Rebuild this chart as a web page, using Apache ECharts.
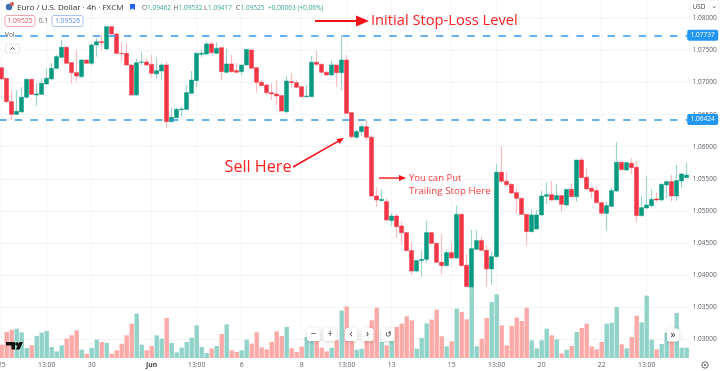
<!DOCTYPE html>
<html><head><meta charset="utf-8">
<style>html,body{margin:0;padding:0;background:#fff}#c{width:720px;height:371px}</style>
<script src="https://cdn.jsdelivr.net/npm/echarts@6/dist/echarts.min.js"></script>
</head><body><div id="c"></div>
<script>
const opens=[1.07233,1.07067,1.06703,1.06505,1.06542,1.06771,1.07051,1.06807,1.06817,1.06979,1.07057,1.07223,1.07395,1.07551,1.07311,1.07155,1.07093,1.07353,1.07301,1.07587,1.07639,1.07525,1.07873,1.07759,1.07457,1.07457,1.07275,1.06807,1.07317,1.07322,1.07285,1.07135,1.07181,1.07275,1.06391,1.06453,1.06578,1.06583,1.06833,1.07031,1.07441,1.07447,1.07603,1.07457,1.07545,1.07161,1.07291,1.07187,1.07171,1.07275,1.07509,1.07233,1.07005,1.06963,1.06843,1.06823,1.06797,1.06547,1.07015,1.06999,1.06937,1.06781,1.06781,1.07317,1.07285,1.07161,1.07119,1.07275,1.07155,1.07353,1.06531,1.06147,1.06235,1.06313,1.06147,1.05231,1.05159,1.05143,1.04847,1.04919,1.04763,1.04659,1.04379,1.04061,1.04223,1.04243,1.04659,1.04493,1.04197,1.04145,1.04347,1.04264,1.04945,1.0415,1.03812,1.04399,1.04535,1.04384,1.04093,1.04285,1.05601,1.0546,1.05413,1.05283,1.05195,1.04945,1.04675,1.04717,1.04935,1.05226,1.05252,1.05174,1.05237,1.05091,1.05335,1.05221,1.05793,1.05523,1.05351,1.05315,1.05127,1.04961,1.0507,1.05309,1.05757,1.05637,1.05741,1.05679,1.04925,1.05044,1.05081,1.05185,1.05169,1.05403,1.05455,1.05231,1.05465,1.05517];
const closes=[1.07057,1.06703,1.06505,1.06552,1.06771,1.07051,1.06817,1.06823,1.06989,1.07067,1.07223,1.07405,1.07551,1.07301,1.07155,1.07103,1.07353,1.07301,1.07587,1.07639,1.07623,1.07873,1.07759,1.07457,1.07452,1.07275,1.06807,1.07311,1.07322,1.07275,1.07145,1.07187,1.07275,1.06391,1.06459,1.06583,1.06589,1.06843,1.07041,1.07457,1.07457,1.07603,1.07467,1.07535,1.07171,1.07291,1.07171,1.07161,1.07275,1.07519,1.07223,1.07005,1.06953,1.06843,1.06823,1.06791,1.06557,1.07025,1.06999,1.06927,1.06781,1.06791,1.07317,1.07285,1.07161,1.07119,1.07275,1.07155,1.07353,1.06521,1.06157,1.06235,1.06313,1.06147,1.05231,1.05169,1.05179,1.04857,1.04919,1.04753,1.04659,1.04379,1.04061,1.04223,1.04243,1.04659,1.04493,1.04197,1.04145,1.04347,1.04264,1.04945,1.04145,1.03817,1.0441,1.04535,1.04384,1.04093,1.04285,1.05601,1.0546,1.05408,1.05278,1.05195,1.04945,1.04675,1.04935,1.04935,1.05231,1.05252,1.05169,1.05237,1.05101,1.05335,1.05221,1.05793,1.05517,1.05341,1.05304,1.05127,1.04961,1.05081,1.05315,1.05757,1.05642,1.05751,1.05673,1.04925,1.05049,1.05091,1.05179,1.05169,1.05413,1.05455,1.05231,1.05471,1.05575,1.05558];
const highs=[1.07233,1.07067,1.06885,1.06885,1.06927,1.07067,1.07051,1.06989,1.07067,1.07223,1.07301,1.07431,1.07665,1.07561,1.07311,1.07509,1.07363,1.07353,1.07613,1.07691,1.07743,1.07873,1.07883,1.07769,1.07639,1.07613,1.07275,1.07379,1.07483,1.07379,1.07431,1.07395,1.07301,1.07327,1.06609,1.06609,1.06625,1.06963,1.07181,1.07467,1.07509,1.07639,1.07639,1.07629,1.07545,1.07535,1.07431,1.07301,1.07275,1.07519,1.07509,1.07233,1.07041,1.06963,1.06989,1.07041,1.06797,1.07103,1.07145,1.07041,1.06937,1.06963,1.07415,1.07493,1.07301,1.07187,1.07343,1.07275,1.07737,1.07431,1.06547,1.06261,1.06355,1.06417,1.06183,1.05367,1.05335,1.05195,1.04961,1.04951,1.04831,1.04659,1.04519,1.04233,1.04379,1.04847,1.04675,1.04493,1.04639,1.04389,1.04503,1.05081,1.04945,1.04327,1.04701,1.04701,1.04597,1.04467,1.04363,1.05731,1.06011,1.05611,1.05429,1.05351,1.05195,1.04945,1.05029,1.05013,1.05309,1.05439,1.05465,1.05419,1.05237,1.05335,1.05429,1.05793,1.05835,1.05673,1.05377,1.05377,1.05143,1.05143,1.05367,1.06069,1.05757,1.05757,1.05819,1.05783,1.05231,1.05549,1.05335,1.05289,1.05429,1.05471,1.05559,1.05715,1.05585,1.05751];
const lows=[1.07057,1.06677,1.06417,1.06495,1.06531,1.06755,1.06807,1.06635,1.06807,1.06963,1.07041,1.07213,1.07379,1.07301,1.06989,1.07015,1.07067,1.07301,1.07275,1.07405,1.07509,1.07509,1.07743,1.07447,1.07327,1.07265,1.06797,1.06797,1.07275,1.07265,1.07083,1.07057,1.07041,1.06287,1.06375,1.06443,1.06469,1.06573,1.06823,1.06927,1.07395,1.07431,1.07457,1.07447,1.07041,1.07145,1.07155,1.07155,1.07119,1.07265,1.07213,1.06843,1.06947,1.06807,1.06729,1.06651,1.06547,1.06521,1.06927,1.06911,1.06771,1.06755,1.06771,1.07265,1.07145,1.07103,1.07103,1.06937,1.06885,1.06511,1.06126,1.06115,1.06178,1.06095,1.05221,1.05065,1.05143,1.04841,1.04763,1.04571,1.04467,1.04368,1.03999,1.04041,1.03973,1.04191,1.04477,1.04181,1.04009,1.04129,1.04254,1.04254,1.04134,1.03807,1.03609,1.04389,1.04373,1.03817,1.03843,1.04275,1.0545,1.05367,1.05263,1.04951,1.04935,1.04457,1.04665,1.04711,1.04925,1.05107,1.05159,1.05159,1.04987,1.05075,1.05211,1.05143,1.05507,1.05325,1.05195,1.05117,1.04951,1.04691,1.05055,1.05299,1.05637,1.05627,1.05569,1.04831,1.04909,1.05029,1.05055,1.05143,1.05153,1.05195,1.05143,1.05159,1.05351,1.05507];
const volumes=[40,78,85,88,77,30,38,66,76,81,33,20,38,58,68,83,25,13,30,55,48,45,13,23,43,68,103,133,40,23,36,68,58,120,45,17,31,48,61,98,33,15,28,36,72,101,23,18,23,55,43,77,32,26,48,80,66,93,29,18,34,63,53,53,31,20,31,53,142,155,53,25,28,53,113,151,48,38,53,93,103,125,113,28,60,104,115,145,65,35,50,148,138,116,213,35,58,120,168,191,98,38,96,121,111,151,53,29,53,88,68,56,14,25,36,78,90,103,35,26,48,103,106,153,41,29,63,127,107,187,55,26,42,76,53,135,31,31];
const timeLabels=['25','13:00','30','Jun','13:00','6','8','13:00','13','15','13:00','20','22','13:00'];
const timeLabelBars=[0,9,18,30,39,48,60,69,78,90,99,108,120,129];
const stopLossLevel=1.07737, entryLevel=1.06424;
const priceTicksMin=1.025, priceTicksMax=1.085, priceTickStep=0.005;
const visibleTickMin=1.03, visibleTickMax=1.08;

const categories=opens.map((_,i)=>{const k=timeLabelBars.indexOf(i);return k>=0?timeLabels[k]:'';});
const C_UP='#089981',C_DN='#f23645',WICK_UP='#9ed6cd',WICK_DN='#fbbcc0',VOL_UP='#92d3c9',VOL_DN='#fbaaa8',BLUE='#2196f3',RED='#ff1f1f';
const chart=echarts.init(document.getElementById('c'),null,{renderer:'canvas'});
const wickData=opens.map((o,i)=>[o,closes[i],lows[i],highs[i]]);
const bodyData=opens.map((o,i)=>[o,closes[i],Math.min(o,closes[i]),Math.max(o,closes[i])]);
const volData=volumes.map((v,i)=>({value:v,itemStyle:{color:closes[i]>=opens[i]?VOL_UP:VOL_DN}}));
const F='"Open Sans",sans-serif';
const tag=(v,bg,fg,bd)=>({yAxis:v,label:{show:true,position:'end',distance:-1,formatter:v.toFixed(5),backgroundColor:bg,color:fg,borderColor:bd,borderWidth:1,padding:[1,2.5,1,2.5],fontSize:6.5,fontFamily:F,borderRadius:1}});
function btn(cx,cy,w,txt,fs){return [
 {type:'rect',z:60,shape:{x:cx-w/2,y:cy-6.5,width:w,height:13,r:2.5},style:{fill:'#fff',shadowBlur:4,shadowColor:'rgba(0,0,0,.18)',shadowOffsetY:1}},
 {type:'text',z:61,x:cx,y:cy,style:{text:txt,font:(fs||9)+'px '+F,fill:'#333',textAlign:'center',textVerticalAlign:'middle'}}];}
function arrow(x1,y1,x2,y2,head,w,col){const a=Math.atan2(y2-y1,x2-x1),c=Math.cos(a),s=Math.sin(a),bx=x2-head*c,by=y2-head*s,hw=head*0.42;
 return [
 {type:'line',z:70,shape:{x1,y1,x2:bx,y2:by},style:{stroke:col,lineWidth:w}},
 {type:'polygon',z:70,shape:{points:[[x2,y2],[bx-s*hw,by+c*hw],[bx+s*hw,by-c*hw]]},style:{fill:col}}];}
const ann=(x,y,t,fs,col)=>({type:'text',z:70,x,y,style:{text:t,font:fs+'px '+F,fill:col,textVerticalAlign:'middle'}});
const hdr=(x,t,col)=>({type:'text',z:50,x,y:8,style:{text:t,font:'6.5px '+F,fill:col,textVerticalAlign:'middle'}});
chart.setOption({
 animation:false,backgroundColor:'#fff',
 grid:[
  {left:-0.8,top:-13.55,width:690,height:384.6,outerBoundsMode:'none'},
  {left:-0.8,top:0,width:690,height:358,outerBoundsMode:'none'}],
 xAxis:[
  {gridIndex:0,type:'category',data:categories,show:false},
  {gridIndex:1,type:'category',data:categories,axisLine:{show:false},axisTick:{show:false},
   axisLabel:{interval:0,margin:3.5,fontSize:6.8,color:'#5a5e68',fontFamily:F,hideOverlap:false,
    formatter:v=>v==='Jun'?'{b|Jun}':v,rich:{b:{fontWeight:'bold',fontSize:6.8,color:'#444',fontFamily:F}}},
   splitLine:{show:true,alignWithLabel:true,interval:(i,v)=>v!=='',lineStyle:{color:'#f4f5f7',width:1}}}],
 yAxis:[
  {gridIndex:0,type:'value',position:'right',min:priceTicksMin,max:priceTicksMax,interval:priceTickStep,
   axisLine:{show:false},axisTick:{show:false},
   axisLabel:{margin:3.5,fontSize:6.5,color:'#5a5e68',fontFamily:F,
    formatter:v=>(v<visibleTickMin-1e-6||v>visibleTickMax+1e-6)?'':v.toFixed(5)},
   splitLine:{lineStyle:{color:'#f3f4f6',width:1}}},
  {gridIndex:1,type:'value',min:0,max:1074,show:false,splitLine:{show:false}}],
 series:[
  {type:'bar',name:'Vol',xAxisIndex:1,yAxisIndex:1,data:volData,barWidth:4.4,z:1,silent:true},
  {type:'candlestick',name:'wick',xAxisIndex:0,yAxisIndex:0,data:wickData,barWidth:1,z:3,silent:true,
   itemStyle:{color:WICK_UP,color0:WICK_DN,borderColor:WICK_UP,borderColor0:WICK_DN,borderWidth:1.2}},
  {type:'candlestick',name:'EURUSD',xAxisIndex:0,yAxisIndex:0,data:bodyData,barWidth:4,z:4,silent:true,
   itemStyle:{color:C_UP,color0:C_DN,borderColor:C_UP,borderColor0:C_DN,borderWidth:0.5},
   markLine:{silent:true,symbol:'none',animation:false,precision:5,z:20,
    lineStyle:{color:'#3399ee',type:[7.4,8.2],width:1.7},
    data:[tag(stopLossLevel,BLUE,'#fff',BLUE),tag(entryLevel,BLUE,'#fff',BLUE),
     Object.assign(tag(closes[closes.length-1],'#fff',C_UP,'#7fd0c2'),{lineStyle:{opacity:0}})]}}
 ],
 graphic:[
  {type:'circle',z:50,shape:{cx:9,cy:7,r:3.2},style:{fill:'#3d6fb5'}},
  {type:'circle',z:50,shape:{cx:12,cy:4,r:2},style:{fill:'#d9534f'}},
  {type:'text',z:50,x:17,y:7.5,style:{text:'Euro / U.S. Dollar · 4h · FXCM',font:'8px '+F,fill:'#2a2e39',textVerticalAlign:'middle'}},
  {type:'polygon',z:50,shape:{points:[[130,4],[135,4],[135,10],[132.5,8.5],[130,10]]},style:{fill:'#2962ff'}},
  hdr(142,'O','#555'),hdr(147,'1.09462','#36a693'),hdr(173.5,'H','#555'),hdr(178.5,'1.09532','#36a693'),
  hdr(204,'L','#555'),hdr(208,'1.09417','#36a693'),hdr(236,'C','#555'),hdr(240.5,'1.09525','#36a693'),
  hdr(268,'+0.00063 (+0.06%)','#36a693'),
  {type:'rect',z:50,shape:{x:5,y:15.5,width:30,height:11,r:2},style:{fill:'#fff',stroke:'#f5a3a9',lineWidth:1}},
  {type:'text',z:50,x:20,y:21,style:{text:'1.09525',font:'6.8px '+F,fill:'#ef5361',textAlign:'center',textVerticalAlign:'middle'}},
  {type:'text',z:50,x:43.5,y:21,style:{text:'0.1',font:'6.8px '+F,fill:'#666',textAlign:'center',textVerticalAlign:'middle'}},
  {type:'rect',z:50,shape:{x:52,y:15.5,width:31,height:11,r:2},style:{fill:'#fff',stroke:'#a6c3fb',lineWidth:1}},
  {type:'text',z:50,x:67.5,y:21,style:{text:'1.09526',font:'6.8px '+F,fill:'#5b8df0',textAlign:'center',textVerticalAlign:'middle'}},
  {type:'text',z:50,x:5,y:35.5,style:{text:'Vol',font:'6.5px '+F,fill:'#555',textVerticalAlign:'middle'}},
  {type:'rect',z:50,shape:{x:5.5,y:44,width:14,height:9,r:1.5},style:{fill:'#fff',stroke:'#e3e5e9',lineWidth:1}},
  {type:'polyline',z:51,shape:{points:[[10.5,49.5],[12.5,47.5],[14.5,49.5]]},style:{stroke:'#444',fill:null,lineWidth:1}},
  {type:'rect',z:50,shape:{x:691,y:1,width:27,height:12,r:1.5},style:{fill:'#fff',shadowBlur:3,shadowColor:'rgba(0,0,0,.12)'}},
  {type:'text',z:51,x:692.5,y:7,style:{text:'USD',font:'6.5px '+F,fill:'#444',textVerticalAlign:'middle'}},
  {type:'polyline',z:51,shape:{points:[[713,6.5],[714.2,7.7],[715.4,6.5]]},style:{stroke:'#444',fill:null,lineWidth:1}},
  ...arrow(315,21,369,21,13,2.2,'#f5101a'),
  ann(371,21,'Initial Stop-Loss Level',14.7,RED),
  ann(224.5,167,'Sell Here',16.2,RED),
  ...arrow(293,167,344,138,7,1.5,'#f5101a'),
  ...arrow(379,178,406,178,7,1.4,'#f5101a'),
  ann(409,178,'You can Put',9.5,'#ff3a3a'),
  ann(409,191.5,'Trailing Stop Here',9.8,'#ff3a3a'),
  ...btn(313.5,334.5,13,'−',10),...btn(330,334.5,13,'+',10),...btn(351,334.5,12,'‹',10),...btn(367.5,334.5,12,'›',10),...btn(388,334.5,13,'↺',8),
  ...btn(673,335,12,'»',10),
  {type:'polygon',z:60,shape:{points:[[6,342],[15,342],[15,349.5],[11.5,349.5],[11.5,345.5],[6,345.5]]},style:{fill:'#111'}},
  {type:'circle',z:60,shape:{cx:17,cy:344,r:1.8},style:{fill:'#111'}},
  {type:'polygon',z:60,shape:{points:[[19.5,342],[23,342],[19.5,349.5],[15.8,349.5]]},style:{fill:'#111'}},
  {type:'circle',z:60,shape:{cx:705,cy:365,r:3.2},style:{fill:'#fff',stroke:'#666',lineWidth:1}},
  {type:'circle',z:60,shape:{cx:705,cy:365,r:1.1},style:{fill:'#666'}}
 ]
});
</script></body></html>
